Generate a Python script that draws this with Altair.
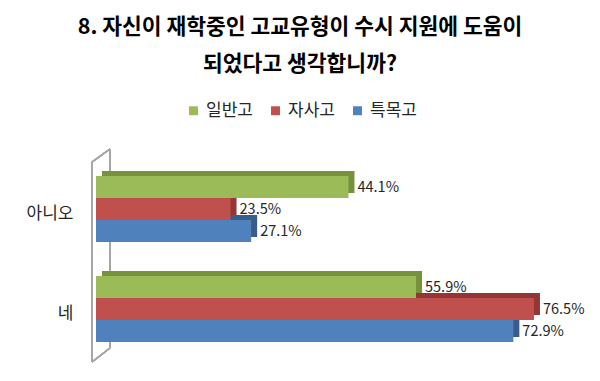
import altair as alt
import pandas as pd

categories = ["아니오", "네"]
series = ["일반고", "자사고", "특목고"]
values_general = [44.1, 55.9]
values_jasa = [23.5, 76.5]
values_teukmok = [27.1, 72.9]

front_colors = ["#9BBB59", "#C0504D", "#4F81BD"]
side_colors = ["#76923C", "#943634", "#385D8A"]

rows = []
for s, vals in zip(series, [values_general, values_jasa, values_teukmok]):
    for c, v in zip(categories, vals):
        rows.append({"category": c, "series": s, "value": v, "label": f"{v:.1f}%"})
df = pd.DataFrame(rows)

FONT = "Noto Sans CJK KR"

y_enc = alt.Y("category:N", sort=categories,
              scale=alt.Scale(paddingInner=0.34, paddingOuter=0.17),
              axis=alt.Axis(title=None, domain=False, ticks=False, labelFontSize=17,
                            labelFont=FONT, labelColor="#262626", labelPadding=23,
                            labelOffset=5))
yoff_enc = alt.YOffset("series:N", sort=series, scale=alt.Scale(paddingInner=0, paddingOuter=0))
yoff_back = alt.YOffset("series:N", sort=series,
                        scale=alt.Scale(paddingInner=0, paddingOuter=0, range=[-5, 61]))
yoff_text = alt.YOffset("series:N", sort=series,
                        scale=alt.Scale(type="band", paddingInner=0, paddingOuter=0, range=[0, 66]))
x_enc = alt.X("value:Q", scale=alt.Scale(domain=[0, 80]), axis=None)

base = alt.Chart(df)

back = base.mark_bar(xOffset=6).encode(
    y=y_enc, yOffset=yoff_back, x=x_enc,
    color=alt.Color("series:N", sort=series,
                    scale=alt.Scale(domain=series, range=side_colors), legend=None),
)

front = base.mark_bar().encode(
    y=y_enc, yOffset=yoff_enc, x=x_enc,
    color=alt.Color("series:N", sort=series,
                    scale=alt.Scale(domain=series, range=front_colors),
                    legend=alt.Legend(title=None, orient="none", direction="horizontal",
                                      legendX=89, legendY=-57, symbolType="square",
                                      symbolSize=80, labelFontSize=17, labelFont=FONT,
                                      labelColor="#262626", columnPadding=14,
                                      symbolStrokeWidth=0)),
)

labels = base.mark_text(align="left", baseline="middle", dx=9, dy=1, fontSize=14.5,
                        font=FONT, color="#262626").encode(
    y=y_enc, yOffset=yoff_text, x=x_enc, text="label:N"
)

wall_color = "#A6A6A6"
wall = [
    alt.Chart(df).mark_rule(color=wall_color, strokeWidth=1.5).encode(
        x=alt.value(-4), x2=alt.value(-4), y=alt.value(3), y2=alt.value(203)),
    alt.Chart(df).mark_rule(color=wall_color, strokeWidth=1.5).encode(
        x=alt.value(14), x2=alt.value(14), y=alt.value(-10), y2=alt.value(189)),
    alt.Chart(df).mark_rule(color=wall_color, strokeWidth=1.5).encode(
        x=alt.value(-4), x2=alt.value(14), y=alt.value(3), y2=alt.value(-10)),
    alt.Chart(df).mark_rule(color=wall_color, strokeWidth=1.5).encode(
        x=alt.value(-4), x2=alt.value(14), y=alt.value(203), y2=alt.value(189)),
]

chart = alt.layer(*wall, back, front, labels).resolve_scale(
    color="independent", yOffset="independent"
).properties(
    width=458, height=200,
    autosize=alt.AutoSizeParams(type="none"),
    padding={"left": 88, "top": 151, "right": 38, "bottom": 14},
    title=alt.TitleParams(
        text=["8. 자신이 재학중인 고교유형이 수시 지원에 도움이", "되었다고 생각합니까?"],
        font=FONT, fontSize=21.5, fontWeight="bold", color="#000000",
        lineHeight=37, anchor="middle", dx=-25, offset=27),
).configure_view(stroke=None)

chart.save("out.html", embed_options={"renderer": "svg", "actions": False})
